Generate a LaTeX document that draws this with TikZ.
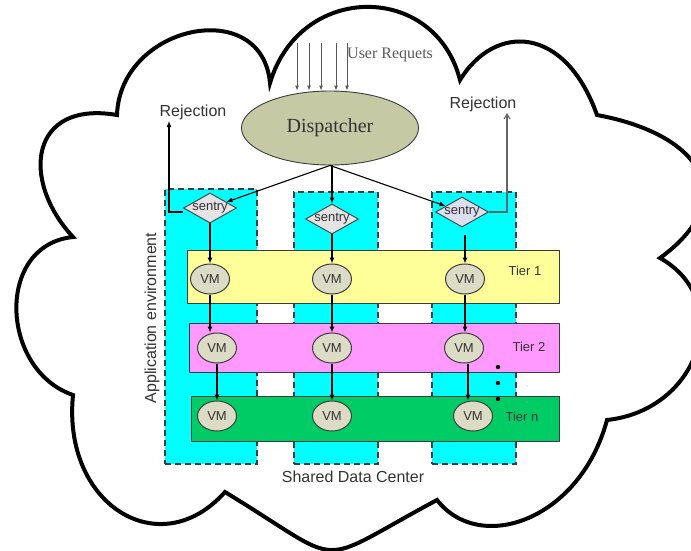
\documentclass[tikz,border=0pt]{standalone}
\usepackage{fontspec}
\setmainfont{Liberation Serif}
\setsansfont{Liberation Sans}
\usetikzlibrary{shapes.geometric,arrows.meta}

\definecolor{edge}{HTML}{3C3C3C}
\definecolor{txt}{HTML}{333333}
\definecolor{colcyan}{HTML}{00FFFF}
\definecolor{tieryellow}{HTML}{FFFF99}
\definecolor{tierpink}{HTML}{FF99FF}
\definecolor{tiergreen}{HTML}{00CC66}
\definecolor{dispfill}{HTML}{C5C9A4}
\definecolor{vmfill}{HTML}{DCDCC6}
\definecolor{sentryfill}{HTML}{E4E4E4}
\definecolor{sentryblue}{HTML}{DCDFF0}

\newcommand{\fs}[1]{\fontsize{#1}{#1}\selectfont}

\begin{document}
\begin{tikzpicture}[x=1pt,y=-1pt,
  cloudline/.style={line width=4pt,black},
  colbox/.style={draw=edge,fill=colcyan,dashed,dash pattern=on 6pt off 4pt,line width=1.3pt,inner sep=0pt},
  tierbox/.style={draw=edge,line width=1pt,inner sep=0pt,minimum width=#1},
  dispnode/.style={ellipse,draw=edge,fill=dispfill,line width=0.9pt,minimum width=177pt,minimum height=74pt,inner sep=0pt},
  vmnode/.style={ellipse,draw=edge,fill=vmfill,line width=1pt,minimum width=39pt,minimum height=30pt,inner sep=0pt,font=\sffamily\fs{13},text=txt},
  sentrybox/.style={diamond,draw=edge,fill=sentryfill,line width=0.9pt,minimum width=53pt,minimum height=30pt,inner sep=0pt,
    label={[font=\sffamily\fs{13},text=txt]center:sentry}},
  arr/.style={-{Latex[length=6pt,width=5pt]},line width=1.1pt,black},
  arrgray/.style={-{Straight Barb[length=5pt,width=6pt]},line width=1.1pt,gray!80!black},
  reqarr/.style={-{Latex[length=5pt,width=4pt]},line width=0.9pt,gray!70!black},
  lbl/.style={font=\sffamily\fs{16},text=txt,inner sep=0pt},
  tierlbl/.style={font=\sffamily\fs{13},text=txt,inner sep=0pt}
]
\useasboundingbox (0,0) rectangle (691,550);

% cloud outline
\draw[cloudline] (73,237)
  .. controls (20,180) and (30,100) .. (117,115)
  .. controls (120,25) and (262,-5) .. (270,83)
  .. controls (300,-18) and (435,-18) .. (460,80)
  .. controls (495,23) and (565,25) .. (597,115)
  .. controls (705,135) and (740,200) .. (660,258)
  .. controls (735,300) and (700,410) .. (607,420)
  .. controls (580,520) and (480,555) .. (437,500)
  .. controls (310,568) and (350,568) .. (225,492)
  .. controls (160,565) and (62,505) .. (73,395)
  .. controls (0,370) and (-5,245) .. cycle;

% application environment columns
\node[colbox,minimum width=92pt,minimum height=275pt] (c1) at (211,326.5) {};
\node[colbox,minimum width=84pt,minimum height=272pt] (c2) at (336,328) {};
\node[colbox,minimum width=84pt,minimum height=272pt] (c3) at (474,328) {};

% tiers
\node[tierbox=372pt,fill=tieryellow,minimum height=53pt] (t1) at (373,276.5) {};
\node[tierbox=370pt,fill=tierpink,minimum height=49pt] (t2) at (374,347.5) {};
\node[tierbox=368pt,fill=tiergreen,minimum height=45pt] (tn) at (375,418.5) {};
\node[tierlbl] (t1l) at (525,271) {Tier 1};
\node[tierlbl] (t2l) at (529,347) {Tier 2};
\node[tierlbl] (tnl) at (522,417) {Tier n};

% dispatcher and sentries
\node[dispnode,font=\fs{20},text=txt] (disp) at (330,128) {Dispatcher};
\node[sentrybox] (s1) at (210,208) {};
\node[sentrybox] (s2) at (332,219) {};
\node[sentrybox,fill=sentryblue] (s3) at (462,212) {};

% virtual machines
\node[vmnode] (v11) at (210,279) {VM};
\node[vmnode] (v12) at (332,279) {VM};
\node[vmnode] (v13) at (465,279) {VM};
\node[vmnode] (v21) at (217,348) {VM};
\node[vmnode] (v22) at (332,348) {VM};
\node[vmnode] (v23) at (464,348) {VM};
\node[vmnode] (v31) at (217,416) {VM};
\node[vmnode] (v32) at (332,416) {VM};
\node[vmnode] (v33) at (473,416) {VM};

% incoming user requests
\foreach \i/\x in {1/297,2/309,3/321,4/336,5/347}{
  \coordinate (ur\i) at (\x,43);
  \draw[reqarr] (ur\i) -- (ur\i |- disp.north);
}
\node[anchor=west,font=\fs{16},text=gray!70!black,inner sep=0pt] (req) at (347,55) {User Requets};

% dispatching
\draw[arr] (disp.south) -- (s1.20);
\draw[arr] (s2.north |- disp.south) -- (s2.north);
\draw[arr] (disp.south) -- (s3.160);

% rejections
\node[lbl] (rej1) at (193,112) {Rejection};
\node[lbl] (rej2) at (483,104) {Rejection};
\coordinate (rj1) at (169,121);
\coordinate (rj2) at (507,113);
\draw[arr] ([yshift=-4pt]s1.west) -| (rj1);
\draw[arrgray] (s3.east) -| (rj2);

% flow through the tiers
\draw[arr] (s1.south) -- (v11.north);
\draw[arr] (s2.south) -- (v12.north);
\draw[arr] ([yshift=-8pt]s3.south -| v13.north) -- (v13.north);
\draw[arr] (v11.south) -- (v11.south |- v21.north);
\draw[arr] (v12.south) -- (v22.north);
\draw[arr] (v13.south) -- (v13.south |- v23.north);
\draw[arr] (v21.south) -- (v31.north);
\draw[arr] (v22.south) -- (v32.north);
\draw[arr] ([xshift=4pt]v23.south) -- ([xshift=4pt]v23.south |- v33.north);

% ellipsis between tiers
\foreach \y in {367,383,399}{
  \fill[black] (498,\y) circle (2.2pt);
  \fill[gray!60] (527,\y+3) circle (0.6pt);
}

% captions
\node[lbl,rotate=90] (appenv) at (152,318) {Application environment};
\node[lbl] (sdc) at (353,477) {Shared Data Center};
\end{tikzpicture}
\end{document}
